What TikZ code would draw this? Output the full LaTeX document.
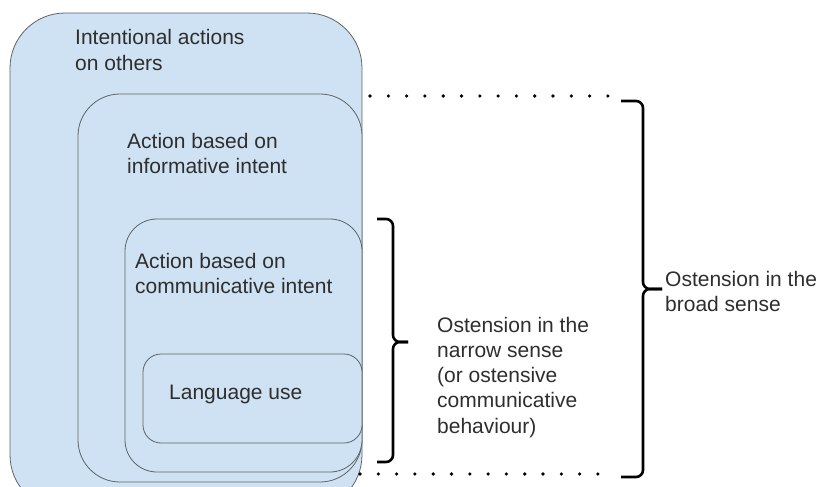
\documentclass[tikz,border=0pt]{standalone}
\usepackage{fontspec}
\setmainfont{Liberation Sans}
\definecolor{boxfill}{HTML}{CFE2F3}
\definecolor{boxline}{HTML}{5F6368}
\definecolor{txt}{HTML}{2E2E2E}
\begin{document}
\begin{tikzpicture}[x=1pt,y=-1pt,
  box/.style={draw=boxline,fill=boxfill,line width=0.8pt},
  lbl/.style={anchor=base west,inner sep=0pt,text=txt,font=\fontsize{21}{25.3}\selectfont},
  dots/.style={line width=3.6pt,line cap=round,dash pattern=on 0pt off 18.3pt},
  brk/.style={line width=2.6pt,rounded corners=7pt}]
\useasboundingbox (0,0) rectangle (820,487);
\begin{scope}
\clip (0,0) rectangle (820,487);
\draw[box,rounded corners=55pt] (10,13) rectangle (362,510);
\draw[box,rounded corners=42pt] (78,94) rectangle (362,482);
\draw[box,rounded corners=32pt] (125,219) rectangle (362,472);
\draw[box,rounded corners=18pt] (143,354) rectangle (362,443);
\end{scope}
\node[lbl] (n1) at (75,45) {\vtop{\hbox{Intentional actions}\hbox{on others}}};
\node[lbl] (n2) at (127,148) {\vtop{\hbox{Action based on}\hbox{informative intent}}};
\node[lbl] (n3) at (135,268) {\vtop{\hbox{Action based on}\hbox{communicative intent}}};
\node[lbl] (n4) at (169,399) {Language use};
\node[lbl] (narrow) at (437,332) {\vtop{\hbox{Ostension in the}\hbox{narrow sense}\hbox{(or ostensive}\hbox{communicative}\hbox{behaviour)}}};
\node[lbl] (broad) at (665,286) {\vtop{\hbox{Ostension in the}\hbox{broad sense}}};
% dotted guide lines
\coordinate (dt1) at (370,96);
\coordinate (dt2) at (609,96);
\coordinate (db1) at (360,474);
\coordinate (db2) at (599,474);
\draw[dots] (dt1) -- (dt2);
\draw[dots] (db1) -- (db2);
% big bracket
\draw[brk] (621,101) -- (643,101) -- (643,289) -- (662,289);
\draw[brk] (621,477) -- (643,477) -- (643,289) -- (662,289);
% small bracket
\draw[brk] (377,219) -- (393,219) -- (393,342) -- (408,342);
\draw[brk] (377,462) -- (393,462) -- (393,342) -- (408,342);
\end{tikzpicture}
\end{document}
